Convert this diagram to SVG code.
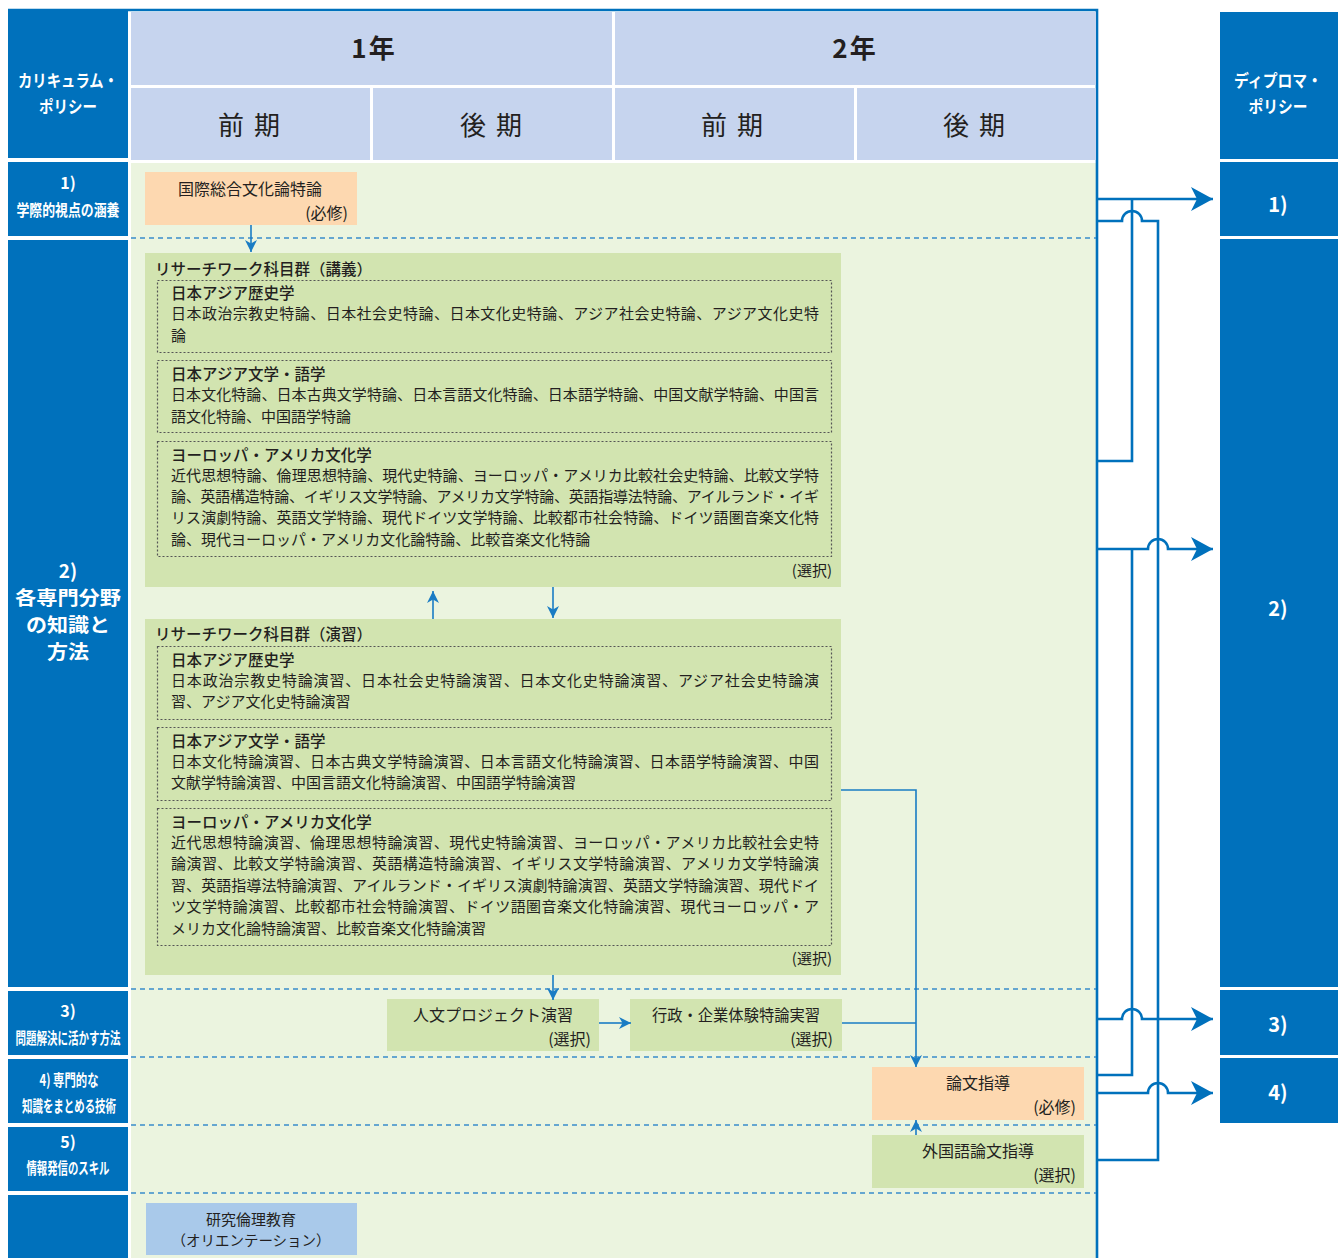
<svg xmlns="http://www.w3.org/2000/svg" width="1341" height="1258" viewBox="0 0 1341 1258">
<style>
text{font-family:"Noto Sans CJK JP","Noto Sans",sans-serif;fill:#231f20;dominant-baseline:central;transform:translateY(-1.5px)}
.hd{font-size:26px}
.hb{font-size:26px;font-weight:bold}
.wl{fill:#fff;font-weight:bold}
.body{font-size:15px}
.sub{font-size:15.5px;font-weight:500}
.nt{font-size:16px}
.mid{text-anchor:middle}
.end{text-anchor:end}
.blue{fill:#0071bc}
.hcell{fill:#c6d4ee}
.green{fill:#d2e4b0}
.orange{fill:#fdd8b0}
.lblue{fill:#a9c9ea}
.dash{stroke:#3a8ccc;stroke-width:1.6;stroke-dasharray:5 4;fill:none}
.dot{fill:none;stroke:#555;stroke-width:1.2;stroke-dasharray:2 2}
.conn{fill:none;stroke:#0071bc;stroke-width:2.6}
.ic{fill:none;stroke:#1a7cc4;stroke-width:1.6}
</style>
<defs>
<marker id="big" markerUnits="userSpaceOnUse" markerWidth="22" markerHeight="24" viewBox="0 0 22 24" refX="22" refY="12" orient="auto">
<path d="M0,0 L22,12 L0,24 L6,12 z" fill="#0071bc"/>
</marker>
<marker id="sm" markerUnits="userSpaceOnUse" markerWidth="12" markerHeight="12" viewBox="0 0 12 12" refX="12" refY="6" orient="auto">
<path d="M0,0 L12,6 L0,12 L3.5,6 z" fill="#1a7cc4"/>
</marker>
</defs>
<rect width="1341" height="1258" fill="#fff"/>

<!-- content background -->
<rect x="131" y="163" width="966" height="1095" fill="#ebf4df"/>

<!-- frame -->
<path d="M8,10 H1097 V1258" fill="none" stroke="#0071bc" stroke-width="2.6"/>

<!-- header -->
<g id="header">
<rect class="hcell" x="131" y="12" width="481" height="73"/>
<rect class="hcell" x="615" y="12" width="481" height="73"/>
<rect class="hcell" x="131" y="88" width="239" height="72"/>
<rect class="hcell" x="373" y="88" width="239" height="72"/>
<rect class="hcell" x="615" y="88" width="239" height="72"/>
<rect class="hcell" x="857" y="88" width="239" height="72"/>
<text class="hb mid" x="374" y="48" letter-spacing="2">1年</text>
<text class="hb mid" x="855" y="48" letter-spacing="2">2年</text>
<text class="hd mid" x="250" y="125" letter-spacing="2">前 期</text>
<text class="hd mid" x="492" y="125" letter-spacing="2">後 期</text>
<text class="hd mid" x="733" y="125" letter-spacing="2">前 期</text>
<text class="hd mid" x="975" y="125" letter-spacing="2">後 期</text>
</g>

<!-- left column -->
<g id="cp-column">
<rect class="blue" x="8" y="10" width="120" height="148"/>
<rect class="blue" x="8" y="162" width="120" height="74"/>
<rect class="blue" x="8" y="240" width="120" height="747"/>
<rect class="blue" x="8" y="991" width="120" height="64"/>
<rect class="blue" x="8" y="1059" width="120" height="64"/>
<rect class="blue" x="8" y="1127" width="120" height="64"/>
<rect class="blue" x="8" y="1195" width="120" height="63"/>
<text class="wl mid" x="68" y="81" font-size="17" textLength="100" lengthAdjust="spacingAndGlyphs">カリキュラム・</text>
<text class="wl mid" x="68" y="107" font-size="17" textLength="58" lengthAdjust="spacingAndGlyphs">ポリシー</text>
<text class="wl mid" x="68" y="183" font-size="16">1)</text>
<text class="wl mid" x="68" y="210" font-size="16" textLength="103" lengthAdjust="spacingAndGlyphs">学際的視点の涵養</text>
<text class="wl mid" x="68" y="571" font-size="19">2)</text>
<text class="wl mid" x="68" y="598" font-size="19" textLength="106" lengthAdjust="spacingAndGlyphs">各専門分野</text>
<text class="wl mid" x="68" y="625" font-size="19" textLength="84" lengthAdjust="spacingAndGlyphs">の知識と</text>
<text class="wl mid" x="68" y="652" font-size="19" textLength="42" lengthAdjust="spacingAndGlyphs">方法</text>
<text class="wl mid" x="68" y="1011" font-size="16">3)</text>
<text class="wl mid" x="68" y="1038" font-size="16" textLength="105" lengthAdjust="spacingAndGlyphs">問題解決に活かす方法</text>
<text class="wl mid" x="69" y="1080" font-size="16" textLength="59" lengthAdjust="spacingAndGlyphs">4) 専門的な</text>
<text class="wl mid" x="69" y="1106" font-size="16" textLength="94" lengthAdjust="spacingAndGlyphs">知識をまとめる技術</text>
<text class="wl mid" x="68" y="1142" font-size="16">5)</text>
<text class="wl mid" x="68" y="1168" font-size="16" textLength="83" lengthAdjust="spacingAndGlyphs">情報発信のスキル</text>
</g>

<!-- right column -->
<g id="dp-column">
<rect class="blue" x="1220" y="12" width="118" height="147"/>
<rect class="blue" x="1220" y="162" width="118" height="74"/>
<rect class="blue" x="1220" y="239" width="118" height="748"/>
<rect class="blue" x="1220" y="990" width="118" height="65"/>
<rect class="blue" x="1220" y="1058" width="118" height="65"/>
<text class="wl mid" x="1278" y="81" font-size="17" textLength="88" lengthAdjust="spacingAndGlyphs">ディプロマ・</text>
<text class="wl mid" x="1278" y="107" font-size="17" textLength="59" lengthAdjust="spacingAndGlyphs">ポリシー</text>
<text class="wl mid" x="1278" y="205" font-size="20">1)</text>
<text class="wl mid" x="1278" y="609" font-size="20">2)</text>
<text class="wl mid" x="1278" y="1025" font-size="20">3)</text>
<text class="wl mid" x="1278" y="1093" font-size="20">4)</text>
</g>

<!-- dashed row separators -->
<g id="separators">
<path class="dash" d="M131,238 H1096 M131,989 H1096 M131,1057 H1096 M131,1125 H1096 M131,1193 H1096"/>
</g>

<!-- nodes -->
<g id="n-kokusai">
<rect class="orange" x="145" y="172" width="212" height="53"/>
<text class="nt mid" x="250" y="189">国際総合文化論特論</text>
<text class="nt end" x="348" y="213">(必修)</text>
</g>

<g id="n-lecture">
<rect class="green" x="145" y="253" width="696" height="334"/>
<text class="sub" x="155" y="269">リサーチワーク科目群（講義）</text>
<rect class="dot" x="157.5" y="280.5" width="674" height="72"/>
<text class="sub" x="171" y="293">日本アジア歴史学</text>
<text class="body" x="171" y="314" textLength="648" lengthAdjust="spacing">日本政治宗教史特論、日本社会史特論、日本文化史特論、アジア社会史特論、アジア文化史特</text>
<text class="body" x="171" y="336">論</text>
<rect class="dot" x="157.5" y="360.5" width="674" height="72"/>
<text class="sub" x="171" y="374">日本アジア文学・語学</text>
<text class="body" x="171" y="395" textLength="648" lengthAdjust="spacing">日本文化特論、日本古典文学特論、日本言語文化特論、日本語学特論、中国文献学特論、中国言</text>
<text class="body" x="171" y="417">語文化特論、中国語学特論</text>
<rect class="dot" x="157.5" y="441.5" width="674" height="115"/>
<text class="sub" x="171" y="455">ヨーロッパ・アメリカ文化学</text>
<text class="body" x="171" y="476" textLength="648" lengthAdjust="spacing">近代思想特論、倫理思想特論、現代史特論、ヨーロッパ・アメリカ比較社会史特論、比較文学特</text>
<text class="body" x="171" y="497" textLength="648" lengthAdjust="spacing">論、英語構造特論、イギリス文学特論、アメリカ文学特論、英語指導法特論、アイルランド・イギ</text>
<text class="body" x="171" y="518" textLength="648" lengthAdjust="spacing">リス演劇特論、英語文学特論、現代ドイツ文学特論、比較都市社会特論、ドイツ語圏音楽文化特</text>
<text class="body" x="171" y="540">論、現代ヨーロッパ・アメリカ文化論特論、比較音楽文化特論</text>
<text class="body end" x="832" y="571">(選択)</text>
</g>

<g id="n-seminar">
<rect class="green" x="145" y="619" width="696" height="356"/>
<text class="sub" x="155" y="634">リサーチワーク科目群（演習）</text>
<rect class="dot" x="157.5" y="646.5" width="674" height="73"/>
<text class="sub" x="171" y="660">日本アジア歴史学</text>
<text class="body" x="171" y="681" textLength="648" lengthAdjust="spacing">日本政治宗教史特論演習、日本社会史特論演習、日本文化史特論演習、アジア社会史特論演</text>
<text class="body" x="171" y="702">習、アジア文化史特論演習</text>
<rect class="dot" x="157.5" y="727.5" width="674" height="73"/>
<text class="sub" x="171" y="741">日本アジア文学・語学</text>
<text class="body" x="171" y="762" textLength="648" lengthAdjust="spacing">日本文化特論演習、日本古典文学特論演習、日本言語文化特論演習、日本語学特論演習、中国</text>
<text class="body" x="171" y="783">文献学特論演習、中国言語文化特論演習、中国語学特論演習</text>
<rect class="dot" x="157.5" y="808.5" width="674" height="137"/>
<text class="sub" x="171" y="822">ヨーロッパ・アメリカ文化学</text>
<text class="body" x="171" y="843" textLength="648" lengthAdjust="spacing">近代思想特論演習、倫理思想特論演習、現代史特論演習、ヨーロッパ・アメリカ比較社会史特</text>
<text class="body" x="171" y="864" textLength="648" lengthAdjust="spacing">論演習、比較文学特論演習、英語構造特論演習、イギリス文学特論演習、アメリカ文学特論演</text>
<text class="body" x="171" y="886" textLength="648" lengthAdjust="spacing">習、英語指導法特論演習、アイルランド・イギリス演劇特論演習、英語文学特論演習、現代ドイ</text>
<text class="body" x="171" y="907" textLength="648" lengthAdjust="spacing">ツ文学特論演習、比較都市社会特論演習、ドイツ語圏音楽文化特論演習、現代ヨーロッパ・ア</text>
<text class="body" x="171" y="929">メリカ文化論特論演習、比較音楽文化特論演習</text>
<text class="body end" x="832" y="959">(選択)</text>
</g>

<g id="n-jinbun">
<rect class="green" x="387" y="999" width="212" height="52"/>
<text class="nt mid" x="493" y="1015">人文プロジェクト演習</text>
<text class="nt end" x="591" y="1039">(選択)</text>
</g>

<g id="n-gyosei">
<rect class="green" x="630" y="999" width="212" height="52"/>
<text class="nt mid" x="736" y="1015" textLength="168" lengthAdjust="spacingAndGlyphs">行政・企業体験特論実習</text>
<text class="nt end" x="833" y="1039">(選択)</text>
</g>

<g id="n-ronbun">
<rect class="orange" x="872" y="1067" width="212" height="53"/>
<text class="nt mid" x="978" y="1083">論文指導</text>
<text class="nt end" x="1076" y="1107">(必修)</text>
</g>

<g id="n-gaikokugo">
<rect class="green" x="872" y="1135" width="212" height="53"/>
<text class="nt mid" x="978" y="1151">外国語論文指導</text>
<text class="nt end" x="1076" y="1175">(選択)</text>
</g>

<g id="n-rinri">
<rect class="lblue" x="146" y="1203" width="211" height="52"/>
<text class="mid" x="251" y="1220" font-size="15">研究倫理教育</text>
<text class="mid" x="251" y="1241" font-size="14.5">（オリエンテーション）</text>
</g>

<!-- connectors -->
<g id="connectors">
<path class="ic" d="M251,225 V252" marker-end="url(#sm)"/>
<path class="ic" d="M433,619 V591" marker-end="url(#sm)"/>
<path class="ic" d="M553,587 V618" marker-end="url(#sm)"/>
<path class="ic" d="M553,975 V1000" marker-end="url(#sm)"/>
<path class="ic" d="M599,1023 H631" marker-end="url(#sm)"/>
<path class="ic" d="M842,1023 H916"/>
<path class="ic" d="M841,790 H916 V1067" marker-end="url(#sm)"/>
<path class="ic" d="M916,1135 V1120" marker-end="url(#sm)"/>

<path class="conn" d="M1097,199 H1213" marker-end="url(#big)"/>
<path class="conn" d="M1132,199 V461 H1097"/>
<path class="conn" d="M1097,221 H1122 A10,10 0 0 1 1142,221 H1158 V1160 H1097"/>
<path class="conn" d="M1097,549 H1148 A10,10 0 0 1 1168,549 H1213" marker-end="url(#big)"/>
<path class="conn" d="M1132,549 V1075 H1097"/>
<path class="conn" d="M1097,1019 H1122 A10,10 0 0 1 1142,1019 H1213" marker-end="url(#big)"/>
<path class="conn" d="M1097,1093 H1148 A10,10 0 0 1 1168,1093 H1213" marker-end="url(#big)"/>
</g>
</svg>
